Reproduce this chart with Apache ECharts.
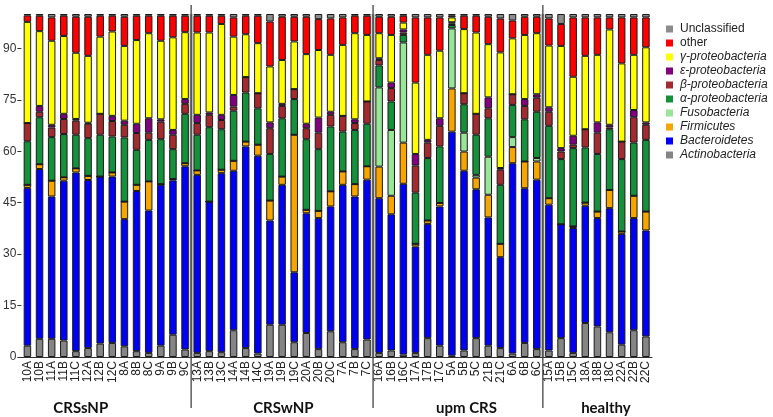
<!DOCTYPE html>
<html><head><meta charset="utf-8">
<script src="https://cdn.jsdelivr.net/npm/echarts@6/dist/echarts.min.js"></script>
<style>html,body{margin:0;padding:0;background:#fff}#c{width:773px;height:417px}</style>
</head><body><div id="c"></div>
<script>
const categories = ['10A','10B','11A','11B','11C','12A','12B','12C','8A','8B','8C','9A','9B','9C',
 '13A','13B','13C','14A','14B','14C','19A','19B','19C','20A','20B','20C','7A','7B','7C',
 '16A','16B','16C','17A','17B','17C','5A','5B','5C','21B','21C','6A','6B','6C',
 '15A','15B','15C','18A','18B','18C','22A','22B','22C'];
const groups = ['CRSsNP','CRSwNP','upm CRS','healthy'];
const groupSizes = [14,15,14,9];
const groupLabelAt = [4.4, 21.1, 36.2, 47.7];
const yTicks = [0,15,30,45,60,75,90];

const actinobacteria = [3.3,5.3,5.3,4.8,1.7,2.6,3.9,4.1,3.1,1.7,1.2,3.3,6.5,2.2,
 1.2,1.7,1.4,7.8,2.6,1.0,9.4,9.4,4.3,7.0,2.3,7.5,4.3,2.3,5.1,
 1.2,1.9,0.7,1.2,5.5,3.3,0.4,1.9,5.5,3.3,2.6,1.0,4.1,2.3,
 1.9,5.5,1.2,9.9,8.9,7.2,3.6,7.8,6.0];
const bacteroidetes = [46.0,49.5,41.5,46.6,52.1,49.0,48.7,48.5,37.1,46.7,41.5,46.9,45.0,53.4,
 51.9,43.6,52.2,46.5,58.8,57.7,30.4,40.8,20.4,34.9,38.2,36.4,45.9,44.5,46.6,
 45.1,39.7,49.8,31.0,33.3,40.6,65.3,52.4,43.4,37.4,26.5,55.5,45.1,49.4,
 42.5,33.2,36.4,34.2,31.6,36.2,32.3,32.7,30.9];
const firmicutes = [0.9,1.4,4.6,1.0,1.2,1.2,0,1.2,5.1,1.8,8.5,0.2,0.4,0.9,
 1.3,0,1.0,2.9,1.4,3.2,5.8,2.4,40.1,1.0,2.1,4.4,3.9,3.6,3.9,
 9.2,5.4,12.0,0.8,1.0,1.0,12.6,5.6,3.4,6.6,3.9,4.7,7.8,5.3,
 1.9,0,0.5,0.9,1.9,5.3,0.7,6.5,5.5];
const fusobacteria = [0,0,0,0,0,0,0,0,0,0,0,0,0,0,
 0,0,0,0,0,0,0,0,0,0,0,0,0,0,0,
 23.1,19.2,29.2,0,0,0,17.5,5.5,0.8,11.1,0,2.9,0,1.0,
 0,0,0,0,0,0,0,0,0];
const alphaP = [12.7,13.7,12.7,12.6,9.8,11.0,12.2,10.5,18.7,10.2,12.1,13.1,8.7,14.4,
 10.4,21.7,11.8,14.6,14.3,10.6,13.6,17.0,10.4,20.6,18.0,18.9,11.6,15.8,12.4,
 6.4,8.3,2.2,14.9,18.2,16.5,1.0,8.3,11.7,11.2,17.2,9.4,12.3,13.5,
 21.1,19.0,22.8,16.1,16.8,17.7,21.1,15.5,20.9];
const betaP = [5.3,1.6,2.8,4.4,4.1,4.2,6.1,4.5,3.7,4.9,2.1,5.1,4.2,2.9,
 3.4,3.6,2.7,1.2,4.5,4.4,7.5,3.6,2.9,3.2,4.8,3.4,4.6,2.0,6.5,
 1.6,3.9,0.7,7.9,4.5,6.0,0.4,3.2,6.1,2.9,4.4,3.1,3.9,4.1,
 4.1,2.2,1.0,5.3,6.2,0.5,5.1,7.4,4.4];
const epsilonP = [0,1.7,0.8,1.5,0.5,0.3,0,1.5,1.2,2.7,4.2,0.7,1.4,1.4,
 2.4,0.7,1.5,3.4,0,0,1.7,0.6,0,1.3,4.4,0.9,0,1.1,0,
 0.5,1.6,0.9,3.4,0.8,2.2,0.4,0,0,3.2,0.5,0,2.0,1.0,
 1.3,1.0,2.6,0,3.0,0.8,0,2.1,0.7];
const gammaP = [29.5,21.8,24.5,22.7,19.3,19.5,22.5,24.6,21.8,24.4,24.8,22.9,27.0,19.5,
 24.0,23.3,26.5,17.0,12.5,14.6,16.3,12.8,13.9,20.3,19.7,16.6,20.7,25.1,19.4,
 7.3,13.9,2.0,20.8,24.8,19.7,1.4,18.7,23.7,15.5,33.7,16.3,18.7,17.8,
 18.0,29.8,17.2,21.4,19.7,27.8,22.8,16.1,21.9];
const other = [1.9,4.5,6.8,5.9,10.5,11.4,6.1,4.6,8.5,7.1,5.1,7.3,6.3,4.8,
 4.9,4.9,2.4,5.6,5.4,8.0,13.1,12.6,7.2,10.9,9.0,10.6,8.0,5.1,5.6,
 4.8,5.3,2.0,19.0,10.9,9.7,0.5,3.9,4.9,8.0,9.9,5.2,5.3,4.8,
 7.9,6.4,17.3,11.2,10.9,3.5,13.4,10.9,8.7];
const unclassified = [0.4,0.5,1.0,0.5,0.8,0.8,0.5,0.5,0.8,0.5,0.5,0.5,0.5,0.5,
 0.5,0.5,0.5,1.0,0.5,0.5,2.2,0.8,0.8,0.8,1.5,1.3,1.0,0.5,0.5,
 0.8,0.8,0.5,1.0,1.0,1.0,0.5,0.5,0.5,0.8,1.3,1.9,0.8,0.8,
 1.3,2.9,1.0,1.0,1.0,1.0,1.0,1.0,1.0];

const seriesDefs = [
  {name:'Actinobacteria', data:actinobacteria, color:'#858585', italic:true},
  {name:'Bacteroidetes', data:bacteroidetes, color:'#0000f5', italic:true},
  {name:'Firmicutes', data:firmicutes, color:'#f7a600', italic:true},
  {name:'Fusobacteria', data:fusobacteria, color:'#98e698', italic:true},
  {name:'α-proteobacteria', data:alphaP, color:'#14913a', italic:true},
  {name:'β-proteobacteria', data:betaP, color:'#a32a2e', italic:true},
  {name:'ε-proteobacteria', data:epsilonP, color:'#800080', italic:true},
  {name:'γ-proteobacteria', data:gammaP, color:'#ffff00', italic:true},
  {name:'other', data:other, color:'#ff0000', italic:false},
  {name:'Unclassified', data:unclassified, color:'#8c8c8c', italic:false}
];

const chart = echarts.init(document.getElementById('c'), null, {renderer:'canvas'});
const FONT = '"Liberation Sans", Arial, sans-serif';
chart.setOption({
  animation:false,
  backgroundColor:'#fff',
  grid:{left:20, right:121, top:14, bottom:60, containLabel:false},
  legend:{
    orient:'vertical', left:661, top:17, itemWidth:7, itemHeight:7, itemGap:0,
    icon:'rect',
    itemStyle:{borderWidth:0},
    textStyle:{fontFamily:FONT, fontSize:12, color:'#222', lineHeight:14, padding:[0,0,0,2]},
    data: seriesDefs.slice().reverse().map(s=>({name:s.name, textStyle:{fontStyle:s.italic?'italic':'normal'}}))
  },
  xAxis:{
    type:'category', data:categories,
    axisLine:{lineStyle:{color:'#333', width:1}},
    axisTick:{show:false},
    axisLabel:{interval:0, rotate:90, fontFamily:FONT, fontSize:12, color:'#222', margin:4}
  },
  yAxis:{
    type:'value', min:0, max:100, interval:15,
    splitLine:{show:false},
    axisLine:{show:false},
    axisTick:{show:true, length:4, lineStyle:{color:'#333'}, customValues:yTicks},
    axisLabel:{fontFamily:FONT, fontSize:12, color:'#333', margin:5, customValues:yTicks}
  },
  series: seriesDefs.map(s=>({
    name:s.name, type:'bar', stack:'all', data:s.data, barWidth:7.5,
    itemStyle:{color:s.color, borderColor:'#1a1a1a', borderWidth:1},
    emphasis:{disabled:true}
  }))
});

// separators and group labels, positioned from the category axis
const px = i => chart.convertToPixel({xAxisIndex:0}, i);
const yTop = chart.convertToPixel({yAxisIndex:0}, 100);
const yBot = chart.convertToPixel({yAxisIndex:0}, 0);
const elements = [];
let acc = 0;
for (let g=0; g<groupSizes.length-1; g++){
  acc += groupSizes[g];
  const xb = (px(acc-1)+px(acc))/2;
  elements.push({type:'line', shape:{x1:xb,y1:yTop,x2:xb,y2:yBot}, style:{stroke:'#9a9a9a', lineWidth:3}, z:100});
  elements.push({type:'line', shape:{x1:xb,y1:yTop-9,x2:xb,y2:yBot+51}, style:{stroke:'#444', lineWidth:1.3}, z:101});
}
groups.forEach((g,k)=>{
  const f = groupLabelAt[k], i0 = Math.floor(f);
  const x = px(i0) + (f-i0)*(px(i0+1)-px(i0));
  elements.push({type:'text', x:x, y:yBot+51, style:{text:g, fontFamily:'Lato, "Open Sans", sans-serif', fontWeight:'bold', fontSize:15, fill:'#111', align:'center', verticalAlign:'middle'}, z:102});
});
chart.setOption({graphic:{elements}});
</script></body></html>
